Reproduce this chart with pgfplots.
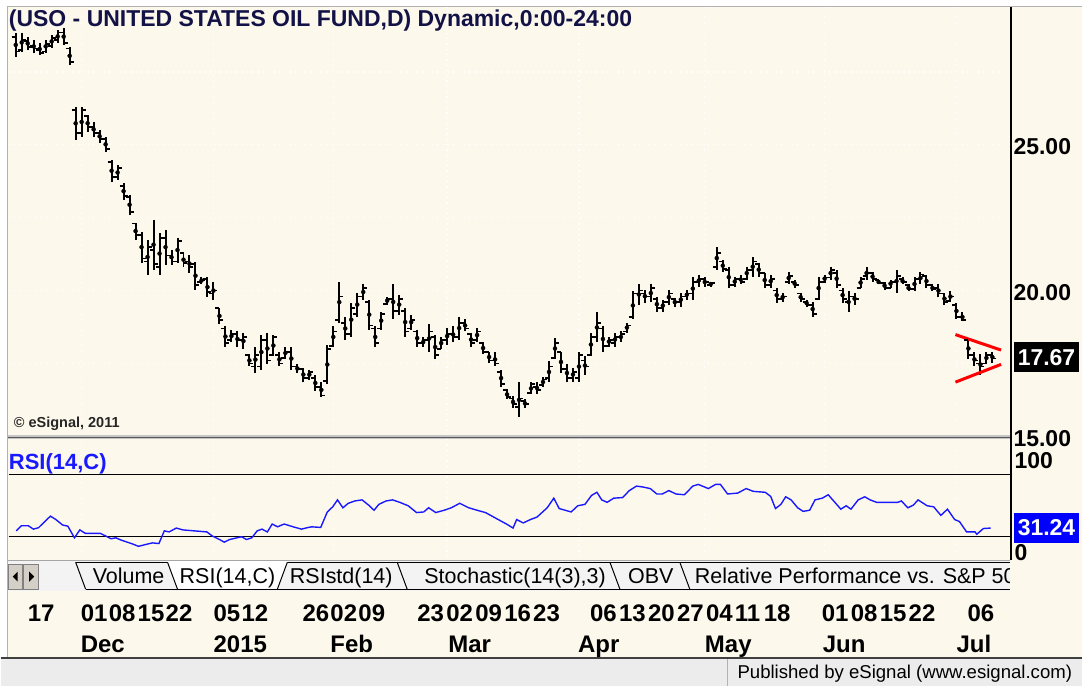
\documentclass[border=0pt]{standalone}
\usepackage{fontspec}
\setmainfont{Liberation Sans}
\usepackage{pgfplots}
\usepackage{pgfplotstable}
\pgfplotsset{compat=1.18}
\definecolor{cream}{RGB}{253,248,236}
\definecolor{titlecol}{RGB}{18,18,70}
\definecolor{rsiblue}{RGB}{25,25,255}
\definecolor{boxblue}{RGB}{0,0,255}
\definecolor{tabbg}{RGB}{243,243,243}
\definecolor{btn}{RGB}{212,208,200}
\definecolor{statusgray}{RGB}{236,236,236}
\newcommand{\fs}[1]{\fontsize{#1}{#1}\selectfont}
\pgfdeclareplotmark{otick}{\pgfpathmoveto{\pgfqpoint{-4pt}{0pt}}\pgfpathlineto{\pgfqpoint{0pt}{0pt}}\pgfusepathqstroke}
\pgfdeclareplotmark{ctick}{\pgfpathmoveto{\pgfqpoint{0pt}{0pt}}\pgfpathlineto{\pgfqpoint{4pt}{0pt}}\pgfusepathqstroke}

\pgfplotstableread{
i o h l c
-2 28.70 28.84 28.01 28.20
-1 28.25 28.84 28.18 28.60
0 28.55 28.70 28.25 28.35
1 28.40 28.60 28.15 28.30
2 28.25 28.49 28.08 28.15
3 28.20 28.60 28.15 28.45
4 28.40 28.77 28.32 28.65
5 28.60 28.94 28.49 28.85
6 28.85 29.00 28.42 28.50
7 28.30 28.36 27.74 27.85
8 26.20 26.30 25.17 25.40
9 25.40 26.30 25.27 26.20
10 26.00 26.03 25.45 25.60
11 25.60 25.79 25.27 25.40
12 25.40 25.51 25.07 25.20
13 25.20 25.27 24.76 24.85
14 24.40 24.49 23.73 23.90
15 23.90 24.30 23.80 24.20
16 23.60 23.70 23.12 23.25
17 23.20 23.29 22.60 22.70
18 22.30 22.33 21.75 21.90
19 21.90 22.02 20.96 21.10
20 21.00 21.75 20.55 21.50
21 21.40 22.43 20.72 20.90
22 20.80 21.99 20.55 21.80
23 21.80 22.09 20.89 21.20
24 21.20 21.40 20.89 21.00
25 21.00 21.82 20.96 21.70
26 21.30 21.30 20.82 20.95
27 21.00 21.23 20.62 20.80
28 20.90 20.99 20.03 20.20
29 20.30 20.48 20.21 20.35
30 20.40 20.45 19.79 19.95
31 19.90 20.31 19.69 20.00
32 19.40 19.42 18.84 19.00
33 18.70 18.77 18.08 18.20
34 18.30 18.66 18.22 18.50
35 18.50 18.60 18.08 18.30
36 18.30 18.56 17.98 18.40
37 17.80 17.81 17.40 17.50
38 17.40 18.08 17.19 17.80
39 17.40 18.49 17.29 18.30
40 18.30 18.56 17.47 17.60
41 17.80 18.49 17.74 18.40
42 17.80 17.88 17.40 17.50
43 17.70 18.08 17.64 17.90
44 17.90 18.05 17.29 17.40
45 17.40 17.47 17.19 17.30
46 17.30 17.36 16.88 17.00
47 17.00 17.29 16.95 17.20
48 17.00 17.12 16.54 16.70
49 16.70 16.85 16.34 16.40
50 16.90 18.15 16.78 18.00
51 18.10 18.77 18.05 18.60
52 19.00 20.31 18.90 19.80
53 18.90 19.08 18.32 18.50
54 18.50 19.59 18.42 19.40
55 19.20 19.93 19.11 19.80
56 19.80 20.21 19.69 20.10
57 19.60 19.69 18.66 18.80
58 18.70 18.77 18.05 18.20
59 18.70 19.28 18.66 19.20
60 19.55 19.79 19.52 19.70
61 19.70 20.21 19.01 19.30
62 19.30 19.86 19.18 19.70
63 19.30 19.42 18.42 18.60
64 18.70 19.18 18.66 19.00
65 18.60 18.66 18.08 18.20
66 18.20 18.42 18.05 18.30
67 18.30 18.84 17.88 18.60
68 18.40 18.49 17.64 17.80
69 18.00 18.42 17.98 18.30
70 18.30 18.73 18.15 18.50
71 18.50 18.77 18.22 18.40
72 18.40 19.11 18.32 18.90
73 18.90 19.01 18.60 18.70
74 18.50 18.56 18.08 18.20
75 18.30 18.73 18.22 18.60
76 18.20 18.25 17.81 17.90
77 17.90 17.91 17.53 17.60
78 17.60 17.88 17.40 17.50
79 17.20 17.29 16.71 16.80
80 16.60 16.61 16.27 16.35
81 16.30 16.37 15.99 16.10
82 16.00 16.85 15.65 16.30
83 16.20 16.27 15.99 16.10
84 16.50 16.85 16.44 16.80
85 16.70 16.88 16.44 16.60
86 16.75 17.02 16.71 16.95
87 17.00 17.57 16.85 17.40
88 17.70 18.39 17.64 18.20
89 17.90 17.91 17.19 17.30
90 17.30 17.47 16.88 17.00
91 17.00 17.36 16.88 17.20
92 17.00 17.91 16.88 17.80
93 17.60 17.74 17.12 17.40
94 17.80 18.56 17.74 18.40
95 18.40 19.25 18.22 18.90
96 18.70 18.77 17.91 18.10
97 18.10 18.42 18.08 18.30
98 18.20 18.56 18.08 18.40
99 18.40 18.60 18.22 18.50
100 18.60 18.90 18.56 18.80
101 19.10 19.97 19.01 19.90
102 19.90 20.21 19.52 20.00
103 19.90 20.03 19.59 19.80
104 19.80 20.21 19.62 20.10
105 19.70 19.79 19.28 19.40
106 19.40 19.69 19.28 19.60
107 19.60 20.03 19.52 19.90
108 19.70 19.76 19.45 19.60
109 19.60 19.93 19.45 19.80
110 19.80 20.03 19.69 19.90
111 19.90 20.45 19.69 20.30
112 20.30 20.55 20.14 20.40
113 20.40 20.45 20.14 20.30
114 20.20 20.31 20.14 20.25
115 20.80 21.51 20.72 21.30
116 21.00 21.06 20.65 20.75
117 20.70 20.82 20.10 20.20
118 20.20 20.48 20.14 20.40
119 20.40 20.55 20.21 20.30
120 20.40 20.82 20.38 20.70
121 20.70 21.16 20.48 21.00
122 20.90 20.96 20.48 20.60
123 20.60 20.62 20.10 20.20
124 20.20 20.55 20.10 20.40
125 20.00 20.10 19.59 19.70
126 19.70 19.93 19.62 19.80
127 20.30 20.65 20.21 20.50
128 20.30 20.38 20.10 20.20
129 19.90 19.93 19.62 19.70
130 19.60 19.69 19.45 19.50
131 19.50 19.62 19.11 19.20
132 19.70 20.48 19.69 20.30
133 20.30 20.55 20.27 20.45
134 20.45 20.82 20.38 20.70
135 20.60 20.72 20.10 20.20
136 20.00 20.10 19.59 19.70
137 19.60 19.97 19.25 19.80
138 19.80 19.93 19.52 19.70
139 20.10 20.45 20.10 20.40
140 20.50 20.82 20.38 20.60
141 20.60 20.65 20.31 20.40
142 20.35 20.38 20.21 20.25
143 20.25 20.31 20.03 20.10
144 20.10 20.38 20.10 20.30
145 20.30 20.72 19.93 20.50
146 20.40 20.45 20.21 20.30
147 20.20 20.21 19.97 20.05
148 20.05 20.48 19.97 20.40
149 20.40 20.65 20.21 20.55
150 20.50 20.55 20.10 20.20
151 20.20 20.21 19.97 20.05
152 20.10 20.21 19.79 19.90
153 19.90 19.93 19.52 19.60
154 19.65 19.97 19.62 19.80
155 19.50 19.59 19.01 19.10
156 19.10 19.25 18.94 19.00
157 18.30 18.39 17.64 17.80
158 17.80 17.88 17.40 17.60
159 17.50 17.81 17.12 17.40
160 17.50 17.91 17.47 17.80
161 17.80 17.91 17.53 17.67
}\ohlc

\pgfplotsset{
  panel/.style={
    scale only axis, width=1004pt,
    xmin=-3.1667, xmax=164.1667,
    axis line style={draw=none},
    major tick length=0pt, minor tick length=0pt,
  },
  dotgrid/.style={white, line width=1.3pt, dash pattern=on 1.3pt off 4pt},
}

\begin{document}
\begin{tikzpicture}
\begin{scope}[x=1pt,y=1pt]
\path[use as bounding box] (0,0) rectangle (1083,687);
\fill[white] (0,0) rectangle (1083,687);
\fill[cream] (7,28) rectangle (1083,680);
\draw[gray!60, line width=1pt] (7,28) -- (7,680.5) -- (1083,680.5);
\end{scope}

% price panel
\begin{axis}[panel, at={(8pt,250pt)}, anchor=south west, height=430pt,
  ymin=15, ymax=29.726,
  xtick={9,31,51,70,92,113,133,155}, xticklabels={},
  ytick={15,20,25}, yticklabels={15.00,20.00,25.00},
  minor ytick={17.5,22.5,27.5},
  yticklabel pos=right,
  yticklabel style={anchor=west, inner sep=0pt, xshift=2pt, yshift=-2pt, font=\bfseries\fs{23}},
  xmajorgrids, ymajorgrids, yminorgrids,
  major grid style={dotgrid}, minor grid style={dotgrid},
]
\addplot[black, only marks, mark=none, forget plot,
  error bars/.cd, y dir=both, y explicit, error mark=none,
  error bar style={line width=2pt, black}]
  table[x=i, y expr=(\thisrow{h}+\thisrow{l})/2, y error expr=(\thisrow{h}-\thisrow{l})/2] {\ohlc};
\addplot[black, only marks, mark=otick, mark options={line width=1.8pt}] table[x=i, y=o] {\ohlc};
\addplot[black, only marks, mark=ctick, mark options={line width=1.8pt}] table[x=i, y=c] {\ohlc};
\addplot[red, line width=3pt] coordinates {(154.83,18.49) (162.45,17.96)};
\addplot[red, line width=3pt] coordinates {(154.83,16.86) (162.45,17.47)};
\end{axis}

% RSI panel
\begin{axis}[panel, at={(8pt,124pt)}, anchor=south west, height=123pt,
  ymin=13.23, ymax=92.58,
  xtick={9,31,51,70,92,113,133,155}, xticklabels={}, ytick=\empty,
  xmajorgrids, major grid style={dotgrid},
]
\addplot[black, line width=1.5pt] coordinates {(-3.1667,70) (164.1667,70)};
\addplot[black, line width=1.5pt] coordinates {(-3.1667,30) (164.1667,30)};
\addplot[rsiblue, line width=1.4pt] coordinates {
(-1.9,33.5) (-1.05,36.8) (0.1,36.8) (0.95,34.6) (1.8,35.5) (3,40.1) (3.8,43.0) (4.7,40.8) (5.8,37.3) (6.7,36.5) (7.8,29.0) (8.7,34.1) (9.6,31.9) (12.1,31.9) (13,30.2) (13.9,28.4) (14.7,29.0) (15.6,27.5) (17.3,25.3) (18.5,23.5) (19.6,24.6) (20.8,25.7) (21.9,25.3) (22.8,33.5) (23.6,32.8) (24.8,35.3) (25.9,34.1) (29.9,32.8) (30.8,30.2) (32,27.9) (32.8,26.2) (33.7,27.9) (35.7,29.7) (36.5,27.9) (37.4,29.0) (38.3,33.5) (39.1,34.6) (40,32.8) (40.8,37.9) (41.7,36.1) (42.8,37.9) (44.3,36.1) (45.7,34.6) (46.6,35.5) (47.4,36.1) (48.9,35.7) (50,45.7) (50.9,49.0) (51.7,53.5) (52.6,48.4) (53.5,51.3) (54.6,52.8) (55.8,53.5) (56.9,50.1) (57.8,46.8) (58.6,50.6) (59.8,52.8) (60.9,53.5) (62.1,51.9) (63.5,49.7) (64.9,45.3) (66.1,45.7) (66.9,48.4) (68.1,45.3) (69.5,46.8) (70.7,48.4) (72.1,51.3) (73.6,48.4) (75,46.8) (76.4,45.3) (78.1,41.7) (79.9,37.9) (81,35.3) (81.6,40.8) (82.7,38.6) (83.9,40.8) (85,42.4)
(86.7,48.4) (87.8,54.6) (88.7,47.9) (90.7,45.7) (91.8,49.7) (93,50.6) (94.1,56.4) (95,58.4) (95.8,53.5) (96.7,51.9) (97.8,54.6) (99.3,55.0) (100.4,59.5) (101.6,62.4) (102.7,61.8) (103.9,60.8) (105,57.3) (105.9,57.3) (107,59.5) (108.2,57.3) (109.6,56.8) (111,62.4) (111.9,63.5) (113.6,60.8) (114.8,63.5) (115.6,63.5) (116.8,57.3) (118.5,57.9) (119.9,60.8) (121.1,59.0) (123.1,58.4) (124,55.7) (124.8,47.9) (125.7,50.6) (126.5,55.5) (127.4,53.5) (128.5,48.4) (129.4,46.1) (130.5,46.8) (131.4,53.5) (132.6,54.6) (133.6,56.8) (134.6,52.4) (135.7,47.5) (136.6,49.7) (137.4,47.5) (138.6,53.5) (139.7,55.5) (140.6,53.5) (141.7,51.9) (145.2,51.9) (145.8,52.8) (146.9,48.4) (147.8,50.1) (148.6,53.5) (150.1,49.7) (151.2,49.0) (152.4,43.5) (153.5,47.5) (154.7,40.8) (155.5,39.5) (156.7,32.8) (158.1,32.8) (158.4,31.3) (159.5,35.0) (160.7,35.3)
};
\end{axis}

% date axis
\begin{axis}[panel, at={(8pt,82pt)}, anchor=south west, height=4pt,
  ymin=0, ymax=1, ytick=\empty,
  xtick={0,8.83,13.5,18.33,23,31,35.67,45.83,50.5,55.17,65,69.83,74.67,79.5,84.33,93.83,98.67,103.5,108.33,113.17,118,122.83,132.5,137.33,142.17,147,156.83},
  xticklabels={17,01,08,15,22,05,12,26,02,09,23,02,09,16,23,06,13,20,27,04,11,18,01,08,15,22,06},
  xticklabel style={anchor=north west, inner sep=0pt, text height=17.5pt, text depth=0pt, font=\bfseries\fs{24}},
  extra x ticks={8.83,31,50.5,70.17,91.83,113,132.67,155},
  extra x tick labels={Dec,2015,Feb,Mar,Apr,May,Jun,Jul},
  extra x tick style={xticklabel style={yshift=-31pt}},
]
\end{axis}

\begin{scope}[x=1pt,y=1pt]
% separator between panels
\fill[gray!45] (7,247) rectangle (1012,251.5);
\draw[black!65, line width=1pt] (7,248.5) -- (1012,248.5);
% right axis line
\draw[black, line width=2pt] (1012,126) -- (1012,680);
% title
\node[anchor=base west, inner sep=0pt, text=titlecol, font=\bfseries\fs{23}] at (8,660) {(USO - UNITED STATES OIL FUND,D) Dynamic,0:00-24:00};
\node[anchor=base west, inner sep=0pt, text=black!85, font=\bfseries\fs{14.5}] at (13,259) {\textcopyright{} eSignal, 2011};
\node[anchor=base west, inner sep=0pt, text=rsiblue, font=\bfseries\fs{22}] at (8,217) {RSI(14,C)};
% right labels
\node[anchor=base west, inner sep=0pt, font=\bfseries\fs{23}] at (1015,217.4) {100};
\node[anchor=base west, inner sep=0pt, font=\bfseries\fs{23}] at (1015,126) {0};
\node[fill=black, text=white, font=\bfseries\fs{23}, minimum width=66pt, minimum height=30pt, inner sep=0pt, anchor=west] at (1014,329.3) {17.67};
\node[fill=boxblue, text=white, font=\bfseries\fs{23}, minimum width=66pt, minimum height=30pt, inner sep=0pt, anchor=west] at (1014,158.3) {31.24};
% tab row
\fill[tabbg] (7,95) rectangle (1011,126);
\draw[gray!70, line width=1pt] (7,126) -- (1011,126);
\fill[btn] (8,97) rectangle (22,122); \draw[gray, line width=0.8pt] (8,97) rectangle (22,122);
\fill[btn] (23,97) rectangle (38,122); \draw[gray, line width=0.8pt] (23,97) rectangle (38,122);
\fill[black] (12,109.5) -- (17,114.5) -- (17,104.5) -- cycle;
\fill[black] (33.5,109.5) -- (28.5,114.5) -- (28.5,104.5) -- cycle;
\draw[black, line width=1pt] (75,124) -- (1011,124);
\draw[black, line width=1pt] (85,97) -- (1011,97);
\fill[white] (166.5,125) -- (176.5,97.5) -- (277.5,97.5) -- (287.5,125) -- cycle;
\draw[black, line width=1pt] (75,124) -- (85,97);
\draw[black, line width=1pt] (167,124) -- (177,97);
\draw[black, line width=1pt] (277,97) -- (287,124);
\draw[black, line width=1pt] (397,124) -- (407,97);
\draw[black, line width=1pt] (610,124) -- (620,97);
\draw[black, line width=1pt] (680,124) -- (690,97);
\node[anchor=base, inner sep=0pt, font=\fs{21.5}] at (128,103) {Volume};
\node[anchor=base, inner sep=0pt, font=\fs{21.5}] at (227,103) {RSI(14,C)};
\node[anchor=base, inner sep=0pt, font=\fs{21.5}] at (341,103) {RSIstd(14)};
\node[anchor=base, inner sep=0pt, font=\fs{21.5}] at (515,103) {Stochastic(14(3),3)};
\node[anchor=base, inner sep=0pt, font=\fs{21.5}] at (651,103) {OBV};
\begin{scope}
\clip (690,95) rectangle (1010,126);
\node[anchor=base west, inner sep=0pt, font=\fs{21.5}] at (695,103) {Relative Performance vs. S\&P 500};
\end{scope}
% status bar
\fill[statusgray] (0,0) rectangle (1083,27);
\draw[black!75, line width=1.5pt] (0,28) -- (1083,28);
\draw[gray!60, line width=1pt] (728,0) -- (728,27);
\node[anchor=base east, inner sep=0pt, font=\fs{18.6}] at (1073,8) {Published by eSignal (www.esignal.com)};
\end{scope}
\end{tikzpicture}
\end{document}
